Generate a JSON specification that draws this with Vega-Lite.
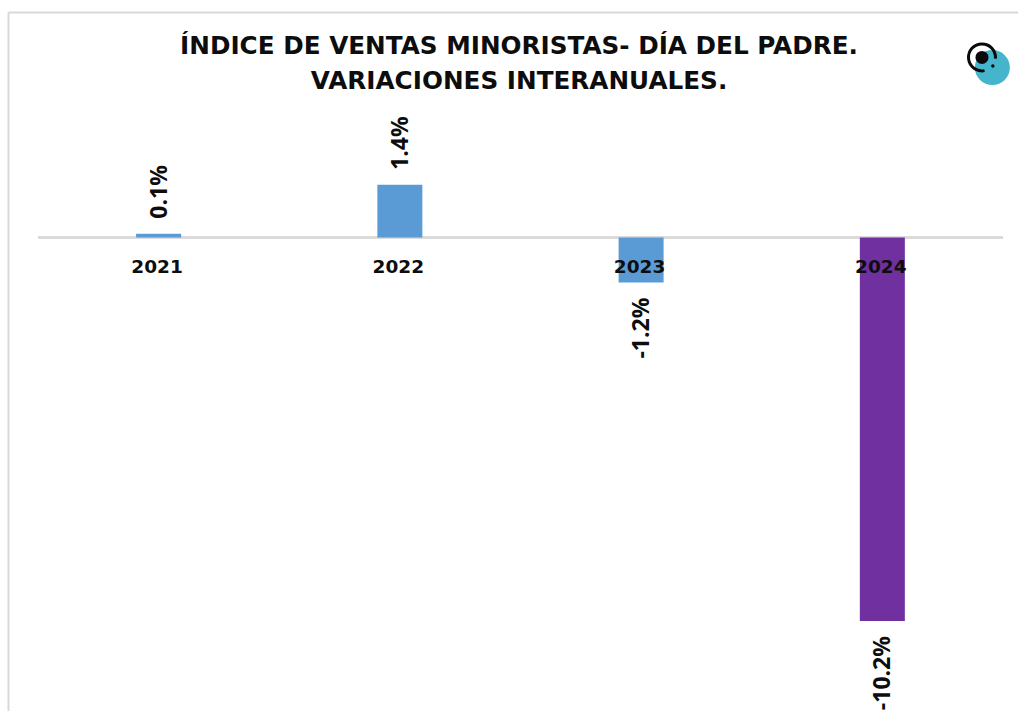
{
 "$schema":"https://vega.github.io/schema/vega-lite/v6.json",
 "width":1010,"height":699,
 "autosize":{"type":"none"},
 "padding":{"left":8,"top":12,"right":0,"bottom":0},
 "background":"white",
 "view":{"stroke":null},
 "title":{"text":["ÍNDICE DE VENTAS MINORISTAS- DÍA DEL PADRE.","VARIACIONES INTERANUALES."],"anchor":"middle","frame":"group","orient":"top","offset":-82,"dx":6,"font":"DejaVu Sans","fontWeight":"bold","fontSize":24.7,"lineHeight":35,"color":"#0d0d0d"},
 "datasets":{
  "ventas":[
   {"year":2021,"value":0.1,"label":"0.1%"},
   {"year":2022,"value":1.4,"label":"1.4%"},
   {"year":2023,"value":-1.2,"label":"-1.2%"},
   {"year":2024,"value":-10.2,"label":"-10.2%"}],
  "logo":[{"x":2024.456,"y":4.52}],
  "logoRing":[{"x":2024.413,"y":4.79}],
  "logoDot":[{"x":2024.458,"y":4.56}]
 },
 "data":{"name":"ventas"},
 "layer":[
  {"mark":{"type":"rule","color":"#d9d9d9","strokeWidth":2},
   "encoding":{
    "x":{"datum":2020.5,"type":"quantitative","scale":{"domain":[2020.3757,2024.5623],"nice":false,"zero":false,"padding":0},
      "axis":{"orient":"top","title":null,"labels":false,"ticks":false,"grid":false,"domainColor":"#d9d9d9","domainWidth":2}},
    "x2":{"datum":2024.5},
    "y":{"datum":0,"type":"quantitative","scale":{"domain":[-12.593,5.997],"nice":false,"zero":false,"padding":0},
      "axis":{"orient":"left","title":null,"labels":false,"ticks":false,"grid":false,"domainColor":"#d9d9d9","domainWidth":2}}
   }},
  {"mark":{"type":"bar","width":45},
   "encoding":{
    "x":{"field":"year","type":"quantitative"},
    "y":{"field":"value","type":"quantitative"},
    "y2":{"datum":0},
    "color":{"field":"year","type":"nominal","scale":{"domain":[2021,2022,2023,2024],"range":["#5B9BD5","#5B9BD5","#5B9BD5","#7030A0"]},"legend":null}
   }},
  {"mark":{"type":"text","font":"DejaVu Sans","fontWeight":"bold","fontSize":18.5,"color":"#0d0d0d","dy":30,"dx":-1.5,"align":"center"},
   "encoding":{
    "x":{"field":"year","type":"quantitative"},
    "y":{"datum":0,"type":"quantitative"},
    "text":{"field":"year","type":"nominal"}
   }},
  {"transform":[{"filter":"datum.value>0"}],
   "mark":{"type":"text","font":"Open Sans","fontWeight":"bold","fontSize":23,"color":"#0d0d0d","angle":270,"align":"left","baseline":"middle","dx":15,"dy":1},
   "encoding":{
    "x":{"field":"year","type":"quantitative"},
    "y":{"field":"value","type":"quantitative"},
    "text":{"field":"label","type":"nominal"}
   }},
  {"transform":[{"filter":"datum.value<0"}],
   "mark":{"type":"text","font":"Open Sans","fontWeight":"bold","fontSize":23,"color":"#0d0d0d","angle":270,"align":"right","baseline":"middle","dx":-15,"dy":1},
   "encoding":{
    "x":{"field":"year","type":"quantitative"},
    "y":{"field":"value","type":"quantitative"},
    "text":{"field":"label","type":"nominal"}
   }},
  {"data":{"name":"logo"},
   "mark":{"type":"point","shape":"circle","filled":true,"color":"#45B5CC","opacity":1,"size":1225},
   "encoding":{"x":{"field":"x","type":"quantitative"},"y":{"field":"y","type":"quantitative"}}},
  {"data":{"name":"logoRing"},
   "mark":{"type":"arc","color":"#0a0a0a","radius":15,"radius2":12,"theta":2.95,"theta2":7.94},
   "encoding":{"x":{"field":"x","type":"quantitative"},"y":{"field":"y","type":"quantitative"}}},
  {"data":{"name":"logoRing"},
   "mark":{"type":"point","shape":"circle","filled":true,"color":"#0a0a0a","opacity":1,"size":169},
   "encoding":{"x":{"field":"x","type":"quantitative"},"y":{"field":"y","type":"quantitative"}}},
  {"data":{"name":"logoDot"},
   "mark":{"type":"point","shape":"circle","filled":true,"color":"#0a0a0a","opacity":1,"size":12},
   "encoding":{"x":{"field":"x","type":"quantitative"},"y":{"field":"y","type":"quantitative"}}}
 ]
}
